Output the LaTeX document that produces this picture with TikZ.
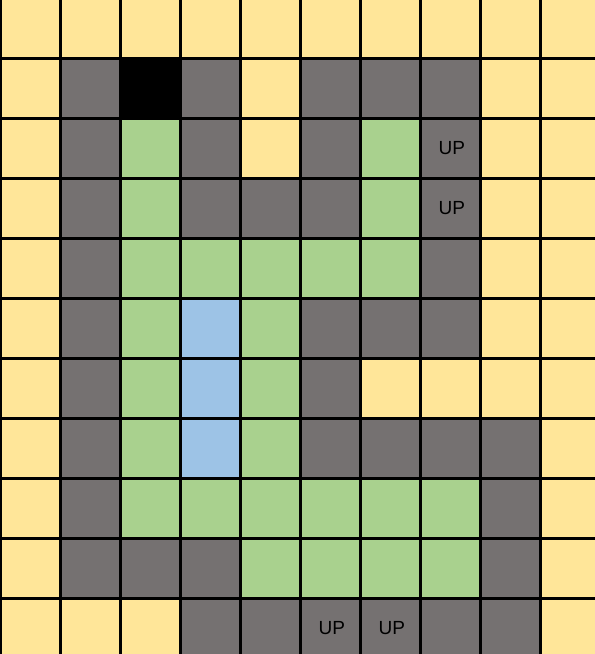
\documentclass[tikz,border=0pt]{standalone}
\usepackage{fontspec}
\setmainfont{Liberation Sans}
\definecolor{tiley}{HTML}{FFE699}
\definecolor{tiled}{HTML}{757171}
\definecolor{tilek}{HTML}{000000}
\definecolor{tileg}{HTML}{A9D18E}
\definecolor{tileb}{HTML}{9DC3E6}

\begin{document}
\begin{tikzpicture}[
  x=1pt, y=-1pt,
  cell/.style={draw=black, line width=3pt, minimum size=60pt, inner sep=0pt, outer sep=0pt},
  tag/.style={font=\fontsize{19}{21}\selectfont, text=black}
]
\useasboundingbox (0,0) rectangle (595,654);
\clip (0,0) rectangle (595,654);

% y yellow, d grey, k black, g green, b blue
\foreach \cells [count=\r from 0] in {
  {y,y,y,y,y,y,y,y,y,y},
  {y,d,k,d,y,d,d,d,y,y},
  {y,d,g,d,y,d,g,d,y,y},
  {y,d,g,d,d,d,g,d,y,y},
  {y,d,g,g,g,g,g,d,y,y},
  {y,d,g,b,g,d,d,d,y,y},
  {y,d,g,b,g,d,y,y,y,y},
  {y,d,g,b,g,d,d,d,d,y},
  {y,d,g,g,g,g,g,g,d,y},
  {y,d,d,d,g,g,g,g,d,y},
  {y,y,y,d,d,d,d,d,d,y}}
  \foreach \c [count=\col from 0] in \cells
    \node[cell, fill=tile\c] (c\r-\col) at (30.5+60.05*\col, 28.5+60*\r) {};

\node[tag] (up1) at ([xshift=1pt]c2-7) {UP};
\node[tag] (up2) at ([xshift=1pt]c3-7) {UP};
\node[tag] (up3) at ([xshift=1pt]c10-5) {UP};
\node[tag] (up4) at ([xshift=1pt]c10-6) {UP};
\end{tikzpicture}
\end{document}
